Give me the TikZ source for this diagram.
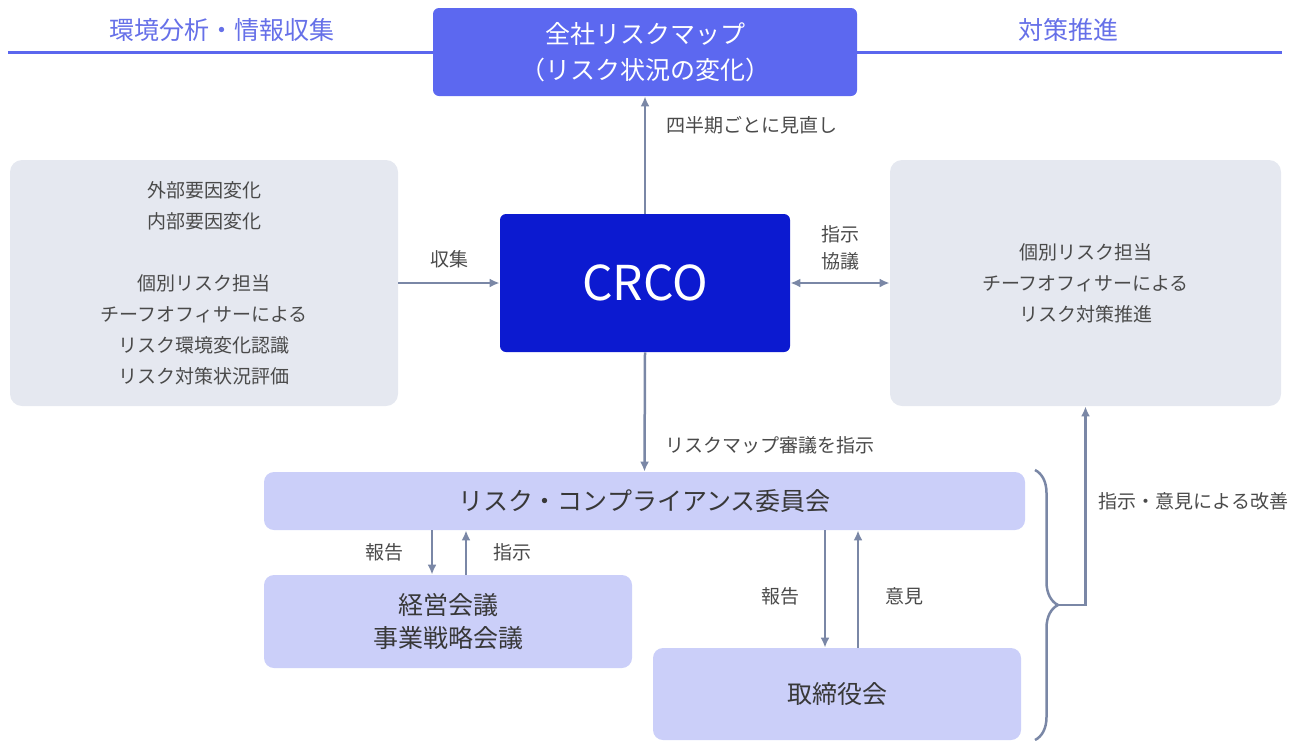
\documentclass[tikz,border=0pt]{standalone}
\usepackage{fontspec}
\setmainfont{Noto Sans CJK JP}
\usetikzlibrary{arrows.meta,decorations.pathreplacing}
\definecolor{hdblue}{HTML}{5B67EE}
\definecolor{hdtext}{HTML}{6670E8}
\definecolor{mapblue}{HTML}{5C68F0}
\definecolor{crcoblue}{HTML}{0C1AD0}
\definecolor{panelgray}{HTML}{E5E8F0}
\definecolor{lilac}{HTML}{CBCFF9}
\definecolor{linkgray}{HTML}{7A87A6}
\definecolor{txtgray}{HTML}{4A4A4A}
\begin{document}
\begin{tikzpicture}[x=0.5pt,y=-0.5pt,>={Latex[length=5pt,width=4.5pt]},
  panel/.style={fill=panelgray,rounded corners=6pt,inner sep=0pt,align=center,text=txtgray,font=\fontsize{9.5}{15.5}\selectfont},
  org/.style={fill=lilac,rounded corners=5pt,inner sep=0pt,align=center,text=black!78,font=\fontsize{12.5}{16.5}\selectfont},
  link/.style={draw=linkgray,line width=1.25pt,->},
  lbl/.style={text=txtgray,font=\fontsize{9.5}{13.5}\selectfont,align=center,inner sep=2pt},
  head/.style={text=hdtext,font=\fontsize{12.5}{15}\selectfont}]
\useasboundingbox (0,0) rectangle (1300,740);
\node[fill=mapblue,rounded corners=3pt,minimum width=212pt,minimum height=44pt,inner sep=0pt,align=center,text=white,font=\fontsize{12.5}{18}\selectfont] (riskmap) at (645,52) {全社リスクマップ\\（リスク状況の変化）};
\coordinate (hdL) at (8,52);
\coordinate (hdR) at (1282,52);
\draw[hdblue,line width=1.5pt] (hdL) -- (riskmap.west);
\draw[hdblue,line width=1.5pt] (riskmap.east) -- (hdR);
\node[head] (envhead) at (222,30) {環境分析・情報収集};
\node[head] (acthead) at (1068,30) {対策推進};
\node[fill=crcoblue,rounded corners=3pt,minimum width=145pt,minimum height=69pt,inner sep=0pt,text=white,font=\fontsize{24}{28}\selectfont] (crco) at (645,283) {CRCO};
\node[panel,minimum width=194pt,minimum height=123pt] (envpanel) at (204,283) {外部要因変化\\内部要因変化\\[15.5pt]個別リスク担当\\チーフオフィサーによる\\リスク環境変化認識\\リスク対策状況評価};
\node[panel,minimum width=195.5pt,minimum height=123pt] (actpanel) at (1085.5,283) {個別リスク担当\\チーフオフィサーによる\\リスク対策推進};
\node[org,minimum width=380.5pt,minimum height=29pt] (committee) at (644.5,501) {リスク・コンプライアンス委員会};
\node[org,minimum width=184pt,minimum height=46.5pt] (mgmt) at (448,621.5) {経営会議\\事業戦略会議};
\node[org,minimum width=184pt,minimum height=46pt] (board) at (837,694) {取締役会};
\draw[link] (crco.north) -- node[lbl,right=8pt,pos=.75] (lblreview) {四半期ごとに見直し} (riskmap.south);
\draw[link] (envpanel.east) -- node[lbl,above=5pt] (lblcollect) {収集} (crco.west);
\draw[link,<->] (crco.east) -- node[lbl,above=4pt] (lblconsult) {指示\\協議} (actpanel.west);
\draw[link] (crco.south) -- node[lbl,right=8pt,pos=.78] (lblorder) {リスクマップ審議を指示} (committee.north);
\draw[link] ([xshift=-8pt]mgmt.north |- committee.south) -- node[lbl,left=11.5pt] (lblrep1) {報告} ([xshift=-8pt]mgmt.north);
\draw[link] ([xshift=9pt]mgmt.north) -- node[lbl,right=11pt] (lblinst1) {指示} ([xshift=9pt]mgmt.north |- committee.south);
\draw[link] ([xshift=-6pt]board.north |- committee.south) -- node[lbl,left=10pt,pos=.56] (lblrep2) {報告} ([xshift=-6pt]board.north);
\draw[link] ([xshift=10.5pt]board.north) -- node[lbl,right=11pt,pos=.44] (lblopinion) {意見} ([xshift=10.5pt]board.north |- committee.south);
\coordinate (braceT) at (1035,470);
\coordinate (braceB) at (1035,740);
\draw[linkgray,line width=1.25pt,decorate,decoration={brace,amplitude=11.5pt}] (braceT) -- (braceB);
\coordinate (bracetip) at (1058,605);
\draw[link] (bracetip) -| node[lbl,right=4pt,pos=.76] (lblimprove) {指示・意見による改善} (actpanel.south);
\end{tikzpicture}
\end{document}
